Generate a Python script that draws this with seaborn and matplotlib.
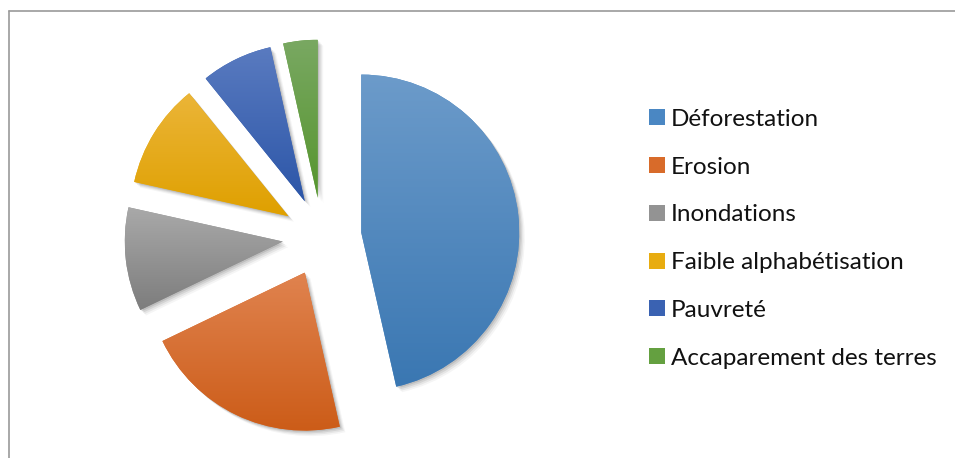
import numpy as np
import matplotlib
matplotlib.use("Agg")
import matplotlib.pyplot as plt
import matplotlib.patheffects as pe
from matplotlib.patches import Patch
from matplotlib.colors import to_rgb
import seaborn as sns

# ---- data ----
categories = ["Déforestation", "Erosion", "Inondations",
              "Faible alphabétisation", "Pauvreté", "Accaparement des terres"]
values = [46.4, 21.4, 10.6, 10.7, 7.3, 3.5]

# ---- style ----
sns.set_theme(style="white")
plt.rcParams["font.family"] = ["Lato", "DejaVu Sans"]

base_colors = ["#4A87C3", "#D86B2A", "#939393", "#E8AC10", "#3A62B2", "#64A040"]
top_colors = ["#6C9BCA", "#E0834F", "#A9A9A9", "#EBB538", "#5A7BC0", "#79A862"]
bot_colors = ["#3A77B2", "#CC5C18", "#7D7D7D", "#DFA000", "#2C56A8", "#56952E"]

W, H, DPI = 955, 458, 100
fig = plt.figure(figsize=(W / DPI, H / DPI), dpi=DPI)
fig.patch.set_facecolor("white")

# pie axes: centre at (322, 237) px, radius 158 px
cx, cy, R = 322, 237, 158
S = 440
L = S / (2 * R)
ax = fig.add_axes([(cx - S / 2) / W, (H - cy - S / 2) / H, S / W, S / H])
ax.set_axis_off()

wedges, _ = ax.pie(values, explode=[0.25] * len(values), startangle=90,
                   counterclock=False, colors=base_colors,
                   wedgeprops=dict(linewidth=0))

shadow = [pe.SimplePatchShadow(offset=(o, -o), shadow_rgbFace="#000000", alpha=a)
          for o, a in [(4, 0.04), (3, 0.06), (2, 0.08), (1, 0.10)]]
for w, tc, bc in zip(wedges, top_colors, bot_colors):
    w.set_path_effects(shadow + [pe.Normal()])
    ext = w.get_path().get_extents()
    t = np.linspace(0, 1, 256)[:, None]
    grad = (1 - t) * np.array(to_rgb(tc)) + t * np.array(to_rgb(bc))
    grad = grad[:, None, :].repeat(2, axis=1)
    im = ax.imshow(grad, extent=(ext.x0, ext.x1, ext.y0, ext.y1),
                   origin="upper", aspect="auto", zorder=w.get_zorder() + 0.1,
                   interpolation="bilinear")
    im.set_clip_path(w)

ax.set_xlim(-L, L)
ax.set_ylim(-L, L)
ax.set_aspect("equal")

# legend
handles = [Patch(facecolor=c, edgecolor="none") for c in base_colors]
fig.legend(handles, categories, loc="upper left",
           bbox_to_anchor=(649 / W, 1 - 109 / H), frameon=False,
           fontsize=17.5, handlelength=0.64, handleheight=0.64,
           handletextpad=0.25, labelspacing=1.10, borderpad=0,
           borderaxespad=0, labelcolor="#111111")

# chart border (top and left visible)
fig.add_artist(plt.Line2D([8.5 / W, 1], [1 - 10.5 / H, 1 - 10.5 / H],
                          transform=fig.transFigure, color="#9a9a9a", lw=1.2))
fig.add_artist(plt.Line2D([8.5 / W, 8.5 / W], [0, 1 - 10.5 / H],
                          transform=fig.transFigure, color="#9a9a9a", lw=1.2))

fig.savefig("out.png", dpi=DPI, facecolor="white")
